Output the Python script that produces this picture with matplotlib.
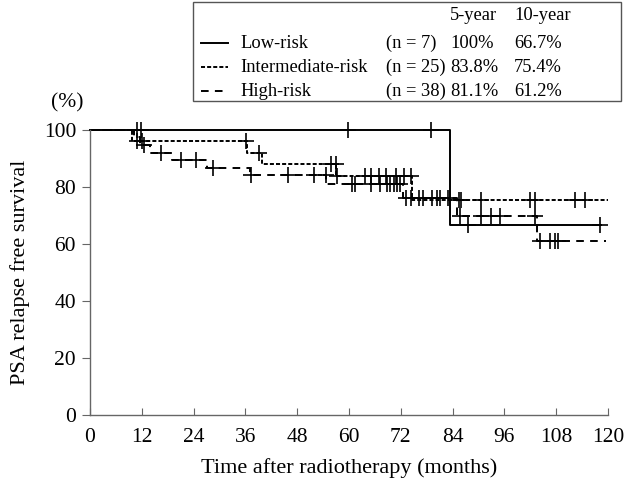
import numpy as np
import matplotlib
matplotlib.use("Agg")
import matplotlib.pyplot as plt
from matplotlib.lines import Line2D
from matplotlib.patches import Rectangle

plt.rcParams['font.family'] = ['Liberation Serif', 'DejaVu Serif']
plt.rcParams['lines.scale_dashes'] = False

# Kaplan-Meier steps (months, %) and censor times
low_t = [0, 83.3]
low_s = [100, 66.7]
low_end = 118.5
low_cens = [10.8, 11.8, 59.8, 78.9, 87.5, 118.2]

mid_t = [0, 9.7, 36.4, 39.8, 57.0, 74.7]
mid_s = [100, 96.0, 92.0, 88.0, 83.8, 75.4]
mid_end = 120
mid_cens = [10.8, 12.1, 36.1, 39.2, 55.8, 56.9, 57.3, 63.8, 65.0, 66.9, 68.5,
            70.8, 72.7, 74.4, 85.5, 86.0, 90.7, 102.0, 103.0, 112.3, 114.6]

high_t = [0, 10.2, 11.5, 14.0, 19.0, 27.0, 37.0, 54.7, 72.5, 85.0, 103.5]
high_s = [100, 97.4, 94.7, 92.1, 89.5, 86.8, 84.2, 81.1, 76.2, 69.8, 61.2]
high_end = 119.6
high_cens = [12.5, 16.5, 21.2, 24.6, 28.4, 37.3, 45.8, 51.9, 54.6, 60.7, 61.5,
             65.0, 67.3, 68.8, 69.6, 70.4, 71.2, 71.9, 73.2, 74.3, 76.2, 77.2,
             79.2, 80.3, 81.1, 83.0, 85.8, 90.7, 93.0, 95.0, 103.0, 104.2,
             106.5, 107.7, 108.5]

groups = ["Low-risk", "Intermediate-risk", "High-risk"]
n_labels = ["(n = 7)", "(n = 25)", "(n = 38)"]
five_year = ["100%", "83.8%", "81.1%"]
ten_year = ["66.7%", "75.4%", "61.2%"]

styles = ['-', (0, (2.9, 1.5)), (0, (5.5, 4.5))]

x_ticks = np.arange(0, 121, 12)
y_ticks = np.arange(0, 101, 20)

fig = plt.figure(figsize=(6.24, 4.82), dpi=100)
ax = fig.add_axes([0.1442, 0.139, 0.8301, 0.5913])

curves = [(low_t, low_s, low_end, low_cens),
          (mid_t, mid_s, mid_end, mid_cens),
          (high_t, high_s, high_end, high_cens)]

for (t, s, t_end, cens), ls in zip(curves, styles):
    tt = list(t) + [t_end]
    ss = list(s) + [s[-1]]
    ax.step(tt, ss, where='post', color='black', lw=1.4, linestyle=ls,
            clip_on=False)
    idx = np.searchsorted(t, cens, side='right') - 1
    cy = np.array(s)[idx]
    ax.plot(cens, cy, linestyle='none', marker='+', color='black',
            markersize=11, mew=1.2, clip_on=False)

ax.set_xlim(0, 120)
ax.set_ylim(0, 100)
ax.set_xticks(x_ticks)
ax.set_yticks(y_ticks)
ax.spines['top'].set_visible(False)
ax.spines['right'].set_visible(False)
for sp in ['left', 'bottom']:
    ax.spines[sp].set_color('#666666')
    ax.spines[sp].set_linewidth(1.0)
ax.tick_params(axis='x', direction='in', length=5, color='#666666',
               labelsize=15.5, pad=9)
ax.tick_params(axis='y', direction='out', length=6, color='#666666',
               labelsize=15.5, pad=4)
ax.set_xlabel("Time after radiotherapy (months)", fontsize=16, labelpad=8)
ax.set_ylabel("PSA relapse free survival", fontsize=16, labelpad=10)
fig.text(67 / 624, 1 - 103 / 482, "(%)", fontsize=15.5, ha='center',
         va='center')

# legend table above the plot
W, H = 624, 482
fig.add_artist(Rectangle((193 / W, 1 - 101 / H), (621 - 193) / W,
                         (101 - 2) / H, transform=fig.transFigure,
                         fill=False, edgecolor='#555555', lw=1.0))
fs = 13.3
fig.text(450 / W, 1 - 16 / H, "5-year", fontsize=fs, va='center')
fig.text(514 / W, 1 - 16 / H, "10-year", fontsize=fs, va='center')
rows_y = [43, 67, 91]
for g, n, f5, f10, ls, ry in zip(groups, n_labels, five_year, ten_year,
                                 styles, rows_y):
    yy = 1 - ry / H
    fig.add_artist(Line2D([201 / W, 228 / W], [yy, yy], color='black',
                          lw=1.4, linestyle=ls, transform=fig.transFigure))
    fig.text(240 / W, yy, g, fontsize=fs, va='center')
    fig.text(386 / W, yy, n, fontsize=fs, va='center')
    fig.text(450 / W, yy, f5, fontsize=fs, va='center')
    fig.text(514 / W, yy, f10, fontsize=fs, va='center')

fig.savefig("out.png", dpi=100)
